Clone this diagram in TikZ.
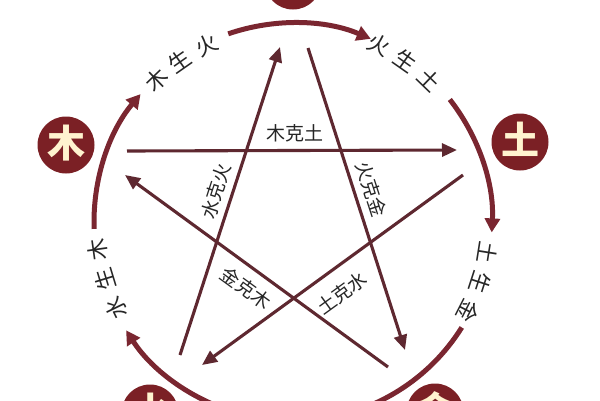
\documentclass[tikz,border=0pt]{standalone}
\usepackage{fontspec}
\newfontfamily\cjk{Noto Sans CJK SC}
\usetikzlibrary{arrows.meta}
\definecolor{arcred}{HTML}{7A2630}
\definecolor{lineRed}{HTML}{5E2830}
\definecolor{nodefill}{HTML}{7B2025}
\definecolor{cream}{HTML}{FFF3CF}
\definecolor{txt}{HTML}{262626}
\begin{document}
\begin{tikzpicture}[x=1pt,y=1pt,
  elem/.style={circle, fill=nodefill, minimum size=57pt, inner sep=0pt, text=cream, font=\cjk\bfseries\fontsize{38}{38}\selectfont, text height=28pt, text depth=4pt},
  arcline/.style={line width=5pt, draw=arcred},
  arctip/.style={-{Triangle[length=14pt,width=15pt]}},
  keline/.style={line width=3.1pt, draw=lineRed, -{Triangle[length=15pt,width=13pt]}, fill=lineRed},
  arclab/.style={font=\cjk\fontsize{22}{22}\selectfont, text=txt, inner sep=0pt},
  kelab/.style={font=\cjk\fontsize{19}{19}\selectfont, text=txt, inner sep=0pt}]
\useasboundingbox (0,0) rectangle (600,-400);
\fill[white] (0,0) rectangle (600,-400);
\clip (0,0) rectangle (600,-400);
\coordinate (C) at (293,-222);

% sheng cycle arcs
\draw[arcline, arctip] ([shift={(109:199)}]C) arc[start angle=109, end angle=67, radius=199];
\draw[arcline, arctip] ([shift={(38:199)}]C) arc[start angle=38, end angle=-3, radius=199];
\draw[arcline] ([shift={(-32:199)}]C) arc[start angle=-32, end angle=-95, radius=199];
\draw[arcline, arctip] ([shift={(255:199)}]C) arc[start angle=255, end angle=213, radius=199];
\draw[arcline, arctip] ([shift={(182:199)}]C) arc[start angle=182, end angle=140, radius=199];

% arc labels
\foreach \ch/\a in {木/134,生/125,火/116}
  \node[arclab, rotate=\a-90] (ma\a) at ([shift={(\a:197)}]C) {\ch};
\foreach \ch/\a in {火/64,生/55,土/46}
  \node[arclab, rotate=\a-90] (hb\a) at ([shift={(\a:197)}]C) {\ch};
\foreach \ch/\a in {土/-9,生/-18,金/-27}
  \node[arclab, rotate=\a-90] (tc\a) at ([shift={(\a:197)}]C) {\ch};
\foreach \ch/\a in {水/206,生/197,木/188}
  \node[arclab, rotate=\a-90] (sd\a) at ([shift={(\a:197)}]C) {\ch};

% ke cycle lines
\coordinate (mkA) at (127,-151); \coordinate (mkB) at (457,-150);
\coordinate (hkA) at (308,-48);  \coordinate (hkB) at (405,-350);
\coordinate (jkA) at (388,-367); \coordinate (jkB) at (125,-175);
\coordinate (skA) at (180,-355); \coordinate (skB) at (280,-47);
\coordinate (tkA) at (463,-175); \coordinate (tkB) at (202,-365);
\draw[keline] (mkA) -- (mkB);
\draw[keline] (hkA) -- (hkB);
\draw[keline] (jkA) -- (jkB);
\draw[keline] (skA) -- (skB);
\draw[keline] (tkA) -- (tkB);

\node[kelab] (mkt) at (295,-133) {木克土};
\node[kelab, rotate=72] (skh) at (216,-191) {水克火};
\node[kelab, rotate=-72] (hkj) at (371,-189) {火克金};
\node[kelab, rotate=-36] (jkm) at (246,-288) {金克木};
\node[kelab, rotate=36] (tks) at (342,-293) {土克水};

% element nodes
\node[elem] (huo) at (293,19) {火};
\node[elem] (mu) at (66,-145) {木};
\node[elem] (tu) at (520,-142) {土};
\node[elem] (shui) at (150,-413) {水};
\node[elem] (jin) at (435,-412) {金};
\end{tikzpicture}
\end{document}
